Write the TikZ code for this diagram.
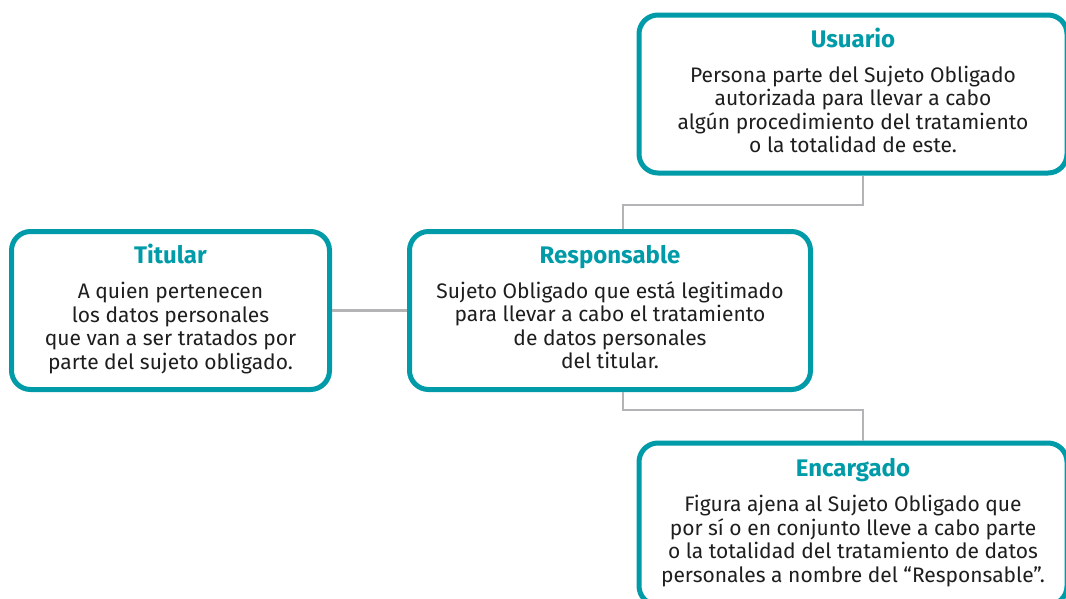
\documentclass[tikz,border=0pt]{standalone}
\usepackage{fontspec}
\setmainfont{Fira Sans}
\definecolor{tealb}{RGB}{0,155,168}
\definecolor{conng}{RGB}{180,180,182}
\definecolor{txt}{RGB}{30,30,30}
\tikzset{
  box/.style={draw=tealb, line width=5pt, rounded corners=19pt, fill=white,
    align=center, text=txt, font=\fontsize{21}{23.5}\selectfont, inner sep=0pt},
  conn/.style={draw=conng, line width=2.5pt},
}
\newcommand{\ttl}[1]{\textcolor{tealb}{\bfseries\fontsize{24}{24}\selectfont #1}\\[11.5pt]}
\newcommand{\dpt}{\rule[-7pt]{0pt}{1pt}}
\begin{document}
\begin{tikzpicture}[x=1pt,y=-1pt]
\useasboundingbox (0,0) rectangle (1066,598);
\clip (0,0) rectangle (1066,598);
\fill[white] (0,0) rectangle (1066,598);
\node[box, minimum width=318pt, minimum height=158pt] (tit) at (170.5,310.5)
  {\ttl{Titular}A quien pertenecen\\los datos personales\\que van a ser tratados por\\parte del sujeto obligado.\dpt};
\node[box, minimum width=401pt, minimum height=158pt] (resp) at (610,310.5)
  {\ttl{Responsable}Sujeto Obligado que está legitimado\\para llevar a cabo el tratamiento\\de datos personales\\del titular.\dpt};
\node[box, minimum width=428pt, minimum height=158pt] (usu) at (853,94)
  {\ttl{Usuario}Persona parte del Sujeto Obligado\\autorizada para llevar a cabo\\algún procedimiento del tratamiento\\o la totalidad de este.\dpt};
\node[box, minimum width=428pt, minimum height=162pt] (enc) at (853,524)
  {\ttl{Encargado}Figura ajena al Sujeto Obligado que\\por sí o en conjunto lleve a cabo parte\\o la totalidad del tratamiento de datos\\personales a nombre del “Responsable”.\dpt};
\draw[conn] (tit.east) -- (resp.west);
\coordinate (up) at (623,205);
\coordinate (dn) at (623,410);
\draw[conn] (resp.north -| up) -- (up) -| ([xshift=10pt]usu.south);
\draw[conn] (resp.south -| dn) -- (dn) -| ([xshift=10pt]enc.north);
\end{tikzpicture}
\end{document}
